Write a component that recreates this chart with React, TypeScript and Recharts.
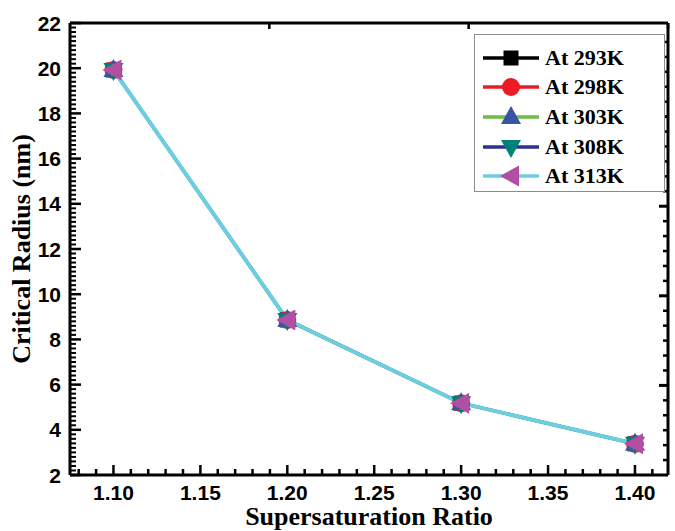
import { LineChart, Line, XAxis, YAxis, Legend } from 'recharts';

// supersaturation ratio (x) and critical radius in nm for each temperature
const ratios = [1.1, 1.2, 1.3, 1.4];
const at293 = [19.92, 8.86, 5.18, 3.38];
const at298 = [19.92, 8.86, 5.18, 3.38];
const at303 = [19.92, 8.86, 5.18, 3.38];
const at308 = [19.92, 8.86, 5.18, 3.38];
const at313 = [19.92, 8.86, 5.18, 3.38];

// axis ticks
const xMajor = [1.1, 1.15, 1.2, 1.25, 1.3, 1.35, 1.4];
const xMinor = [1.08, 1.09, 1.11, 1.12, 1.13, 1.14, 1.16, 1.17, 1.18, 1.19, 1.21, 1.22, 1.23, 1.24, 1.26, 1.27, 1.28, 1.29, 1.31, 1.32, 1.33, 1.34, 1.36, 1.37, 1.38, 1.39, 1.41];
const yMajor = [2, 4, 6, 8, 10, 12, 14, 16, 18, 20, 22];
const yMinor = [
  2.2, 2.4, 2.6, 2.8, 3, 3.2, 3.4, 3.6, 3.8, 4.2, 4.4, 4.6, 4.8, 5, 5.2, 5.4, 5.6, 5.8,
  6.2, 6.4, 6.6, 6.8, 7, 7.2, 7.4, 7.6, 7.8, 8.2, 8.4, 8.6, 8.8, 9, 9.2, 9.4, 9.6, 9.8,
  10.2, 10.4, 10.6, 10.8, 11, 11.2, 11.4, 11.6, 11.8, 12.2, 12.4, 12.6, 12.8, 13, 13.2, 13.4, 13.6, 13.8,
  14.2, 14.4, 14.6, 14.8, 15, 15.2, 15.4, 15.6, 15.8, 16.2, 16.4, 16.6, 16.8, 17, 17.2, 17.4, 17.6, 17.8,
  18.2, 18.4, 18.6, 18.8, 19, 19.2, 19.4, 19.6, 19.8, 20.2, 20.4, 20.6, 20.8, 21, 21.2, 21.4, 21.6, 21.8,
];
// top / right frame ticks (own scale, as in the original)
const topMajor = [5, 10, 15, 20];
const topMinor = [1, 2, 3, 4, 6, 7, 8, 9, 11, 12, 13, 14, 16, 17, 18, 19, 21, 22, 23, 24];
const rightMajor = [6, 12, 18, 24];
const rightMinor = [1, 2, 3, 4, 5, 7, 8, 9, 10, 11, 13, 14, 15, 16, 17, 19, 20, 21, 22, 23, 25, 26, 27, 28, 29];

const data = ratios.map((s, i) => ({
  s,
  t293: at293[i],
  t298: at298[i],
  t303: at303[i],
  t308: at308[i],
  t313: at313[i],
}));

const series = [
  { key: 't293', name: 'At 293K', line: '#000000', marker: '#000000', shape: 'square' },
  { key: 't298', name: 'At 298K', line: '#ED1C24', marker: '#ED1C24', shape: 'circle' },
  { key: 't303', name: 'At 303K', line: '#6DBE45', marker: '#3A53A4', shape: 'up' },
  { key: 't308', name: 'At 308K', line: '#2E3192', marker: '#00807A', shape: 'down' },
  { key: 't313', name: 'At 313K', line: '#6DCEDF', marker: '#B24FA2', shape: 'left' },
];

function marker(shape: string, cx: number, cy: number, color: string, key?: string) {
  if (shape === 'square') return <rect key={key} x={cx - 7.5} y={cy - 7.5} width={15} height={15} fill={color} />;
  if (shape === 'circle') return <circle key={key} cx={cx} cy={cy} r={9} fill={color} />;
  let pts = '';
  if (shape === 'up') pts = `${cx},${cy - 11} ${cx + 10},${cy + 7} ${cx - 10},${cy + 7}`;
  if (shape === 'down') pts = `${cx},${cy + 11} ${cx + 10},${cy - 7} ${cx - 10},${cy - 7}`;
  if (shape === 'left') pts = `${cx - 11},${cy} ${cx + 8},${cy - 10.5} ${cx + 8},${cy + 10.5}`;
  return <polygon key={key} points={pts} fill={color} />;
}

const isIn = (arr: number[], v: number) => arr.some((m) => Math.abs(m - v) < 1e-6);
const titleFont = { fontFamily: 'Liberation Serif', fontWeight: 'bold', fontSize: 26, fill: '#000' };
const xDomain = [1.075, 1.419];
const yDomain = [2, 22];
const THIN = 0.01;
const noLabel = () => <g />;

// bottom ticks: inward tick mark (filled rect) + label for majors (tickMargin 10, tickSize 0)
const BottomTick = (p: any) => {
  const v = p.payload.value;
  const major = isIn(xMajor, v);
  const x = Number(p.x);
  const y = Number(p.y);
  const len = major ? 10 : 6;
  return (
    <g>
      <rect x={x - 1.25} y={y - 10 - len} width={2.5} height={len} fill="#000" />
      {major && (
        <text x={x} y={y} dy="0.71em" textAnchor="middle" fontFamily="Liberation Sans" fontWeight="bold" fontSize={21} fill="#000">
          {v.toFixed(2)}
        </text>
      )}
    </g>
  );
};

// left ticks: inward tick mark (filled rect) + label for majors (tickMargin 9, tickSize 0)
const LeftTick = (p: any) => {
  const v = p.payload.value;
  const major = isIn(yMajor, v);
  const x = Number(p.x);
  const y = Number(p.y);
  const len = major ? 11 : 6;
  const th = major ? 2.5 : 2;
  return (
    <g>
      <rect x={x + 9} y={y - th / 2} width={len} height={th} fill="#000" />
      {major && (
        <text x={x} y={y} dy="0.36em" textAnchor="end" fontFamily="Liberation Sans" fontWeight="bold" fontSize={21} fill="#000">
          {v}
        </text>
      )}
    </g>
  );
};

// top frame ticks pointing down into the plot
const TopTick = (p: any) => {
  const major = isIn(topMajor, p.payload.value);
  const len = major ? 10 : 6;
  return <rect x={Number(p.x) - 1.25} y={Number(p.y)} width={2.5} height={len} fill="#000" />;
};

const LegendBox = () => (
  <div
    style={{
      border: '1.5px solid #8c8c8c',
      background: '#fff',
      width: 191,
      height: 158,
      boxSizing: 'border-box',
      paddingTop: 8,
    }}
  >
    {series.map((s) => (
      <div key={s.key} style={{ display: 'flex', alignItems: 'center', height: 29.6 }}>
        <svg width={64} height={26} style={{ marginLeft: 6 }}>
          <rect x={2} y={11.25} width={56} height={3.5} fill={s.line} />
          {marker(s.shape, 30, 13, s.marker)}
        </svg>
        <span style={{ fontFamily: 'Liberation Serif', fontWeight: 'bold', fontSize: 22, color: '#000' }}>
          {s.name}
        </span>
      </div>
    ))}
  </div>
);

export default function App() {
  return (
    <div style={{ position: 'absolute', left: 0, top: 0 }}>
      <LineChart width={675} height={531} data={data} margin={{ top: 22, right: 7, left: 0, bottom: 0 }}>
        {/* bottom axis: labels, inward ticks, frame line */}
        <XAxis
          xAxisId="x"
          dataKey="s"
          type="number"
          domain={xDomain}
          allowDataOverflow
          ticks={[...xMinor, ...xMajor]}
          interval={0}
          tick={BottomTick}
          tickLine={false}
          tickSize={0}
          tickMargin={10}
          stroke="#000"
          strokeWidth={3}
          height={56}
          label={{ value: 'Supersaturation Ratio', position: 'insideBottom', offset: 6, style: { ...titleFont, textAnchor: 'middle' } }}
        />
        {/* top frame */}
        <XAxis
          xAxisId="top"
          orientation="top"
          type="number"
          domain={[0, 24.7]}
          allowDataOverflow
          ticks={[...topMinor, ...topMajor]}
          interval={0}
          height={1}
          tick={TopTick}
          tickLine={false}
          tickSize={0}
          tickMargin={0}
          stroke="#000"
          strokeWidth={3}
        />

        {/* left axis: labels, inward ticks, frame line */}
        <YAxis
          yAxisId="y"
          type="number"
          domain={yDomain}
          ticks={[...yMinor, ...yMajor]}
          interval={0}
          tick={LeftTick}
          tickLine={false}
          tickSize={0}
          tickMargin={9}
          stroke="#000"
          strokeWidth={3}
          width={70}
          label={{ value: 'Critical Radius (nm)', angle: -90, position: 'insideLeft', offset: 21, style: { ...titleFont, textAnchor: 'middle' } }}
        />
        {/* right frame */}
        <YAxis yAxisId="right" orientation="right" type="number" domain={[0, 30.27]} allowDataOverflow ticks={rightMajor} interval={0} mirror width={THIN} tick={noLabel} tickSize={9} stroke="#000" strokeWidth={3} />
        <YAxis yAxisId="rightMin" orientation="right" type="number" domain={[0, 30.27]} allowDataOverflow ticks={rightMinor} interval={0} mirror width={THIN} tick={noLabel} tickSize={5} stroke="#000" strokeWidth={2.5} axisLine={false} />

        <Legend
          layout="vertical"
          align="center"
          verticalAlign="middle"
          content={() => <LegendBox />}
          wrapperStyle={{ left: 474, top: 34, width: 191, height: 158 }}
        />

        {series.map((s, i) => (
          <Line
            key={s.key}
            xAxisId="x"
            yAxisId="y"
            dataKey={s.key}
            name={s.name}
            stroke={s.line}
            strokeWidth={i === series.length - 1 ? 4 : 3}
            isAnimationActive={false}
            dot={(p: any) => marker(s.shape, p.cx, p.cy, s.marker, `${s.key}-${p.index}`)}
            activeDot={false}
          />
        ))}
      </LineChart>
    </div>
  );
}
